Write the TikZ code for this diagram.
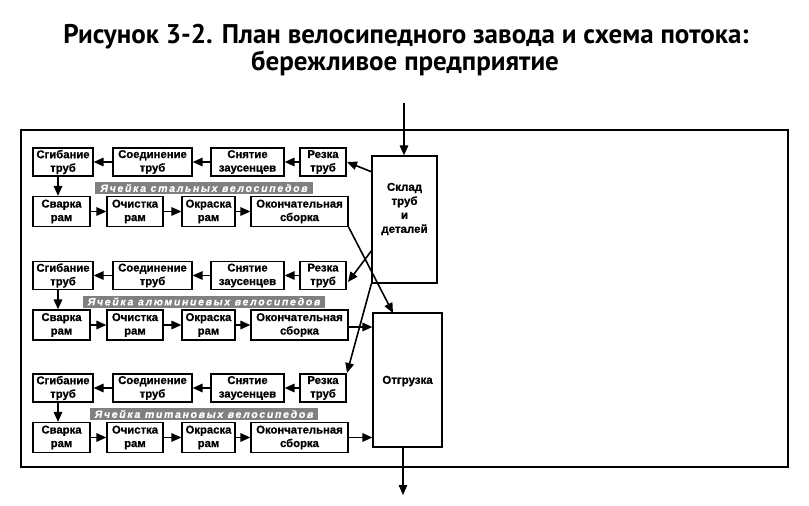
\documentclass[tikz,border=0pt]{standalone}
\usepackage{fontspec}
\setmainfont{Liberation Sans}
\newfontfamily\titlefont{PT Sans}
\newfontfamily\boxfont[FakeBold=0.8]{Liberation Sans Bold}
\newfontfamily\barfont[LetterSpace=16,FakeBold=0.6]{Liberation Sans Bold Italic}
\usetikzlibrary{arrows.meta,calc}
\definecolor{bargray}{HTML}{808080}
\tikzset{
  box/.style={draw, line width=1.2pt, align=center, inner sep=0pt,
    font=\boxfont\fontsize{11.3}{13.5}\selectfont},
  bigbox/.style={draw, line width=1.2pt, align=center, inner sep=0pt},
  bigtext/.style={align=center, inner sep=0pt, font=\boxfont\fontsize{11.5}{14}\selectfont},
  bar/.style={fill=bargray, text=white, inner xsep=5pt, inner ysep=0pt,
    minimum height=12pt, font=\barfont\fontsize{10.5}{11}\selectfont},
  arr/.style={line width=1.6pt, -{Triangle[length=10pt,width=8.5pt]}},
  ttl/.style={font=\titlefont\bfseries\fontsize{27}{30}\selectfont, anchor=base, inner sep=0pt}
}
\begin{document}
\begin{tikzpicture}[x=1pt,y=-1pt]
\useasboundingbox (0,0) rectangle (809,506);
\node[ttl] (t1) at (406,43) {Рисунок 3-2. План велосипедного завода и схема потока:};
\node[ttl] (t2) at (405,70) {бережливое предприятие};
\draw[line width=1.8pt] (21,130) rectangle (788,467);

\foreach \r/\dy/\lab in {1/0/стальных, 2/113.5/алюминиевых, 3/226/титановых}{
  \node[box, minimum width=60pt, minimum height=28pt] (sg\r) at (63,162+\dy) {Сгибание\\труб};
  \node[box, minimum width=79pt, minimum height=28pt] (so\r) at (152.5,162+\dy) {Соединение\\труб};
  \node[box, minimum width=73pt, minimum height=28pt] (sn\r) at (247.5,162+\dy) {Снятие\\заусенцев};
  \node[box, minimum width=46pt, minimum height=28pt] (rz\r) at (323,162+\dy) {Резка\\труб};
  \node[box, minimum width=57pt, minimum height=30pt] (sv\r) at (61.5,211.5+\dy) {Сварка\\рам};
  \node[box, minimum width=56pt, minimum height=30pt] (oc\r) at (135,211.5+\dy) {Очистка\\рам};
  \node[box, minimum width=53pt, minimum height=30pt] (ok\r) at (208.5,211.5+\dy) {Окраска\\рам};
  \node[box, minimum width=97pt, minimum height=30pt] (sb\r) at (299.5,211.5+\dy) {Окончательная\\сборка};
  \node[bar] (bar\r) at (204,188+\dy) {Ячейка \lab\ велосипедов};
  \coordinate (dn\r) at (58,176+\dy);
  \draw[arr] (rz\r.west) -- (sn\r.east);
  \draw[arr] (sn\r.west) -- (so\r.east);
  \draw[arr] (so\r.west) -- (sg\r.east);
  \draw[arr] (dn\r) -- (dn\r |- sv\r.north);
  \draw[arr] (sv\r.east) -- (oc\r.west);
  \draw[arr] (oc\r.east) -- (ok\r.west);
  \draw[arr] (ok\r.east) -- (sb\r.west);
}

\node[bigbox, minimum width=65pt, minimum height=127pt] (sk) at (404.5,219.5) {};
\node[bigtext] (sktext) at (404.5,209) {Склад\\труб\\и\\деталей};
\node[bigbox, minimum width=69pt, minimum height=134pt] (og) at (407.5,380) {};
\node[bigtext] (ogtext) at (407.5,381) {Отгрузка};

\coordinate (in) at (404,103);
\coordinate (out) at (403,495);
\draw[arr] (in) -- (in |- sk.north);
\draw[arr] (og.south -| out) -- (out);

\coordinate (s1) at (372,172);
\coordinate (s2) at (372,250);
\coordinate (r1) at (347,162);
\coordinate (r2) at (348,282);
\coordinate (r3) at (347,373);
\coordinate (o1) at (393,313);
\coordinate (e2) at (348,327);
\draw[arr] (s1) -- (r1);
\draw[arr] (s2) -- (r2);
\draw[arr] (sk.south west) -- (r3);
\draw[arr] (sb1.south east) -- (o1);
\draw[arr] (e2) -- (e2 -| og.west);
\draw[arr] (sb3.east) -- (sb3.east -| og.west);
\end{tikzpicture}
\end{document}
